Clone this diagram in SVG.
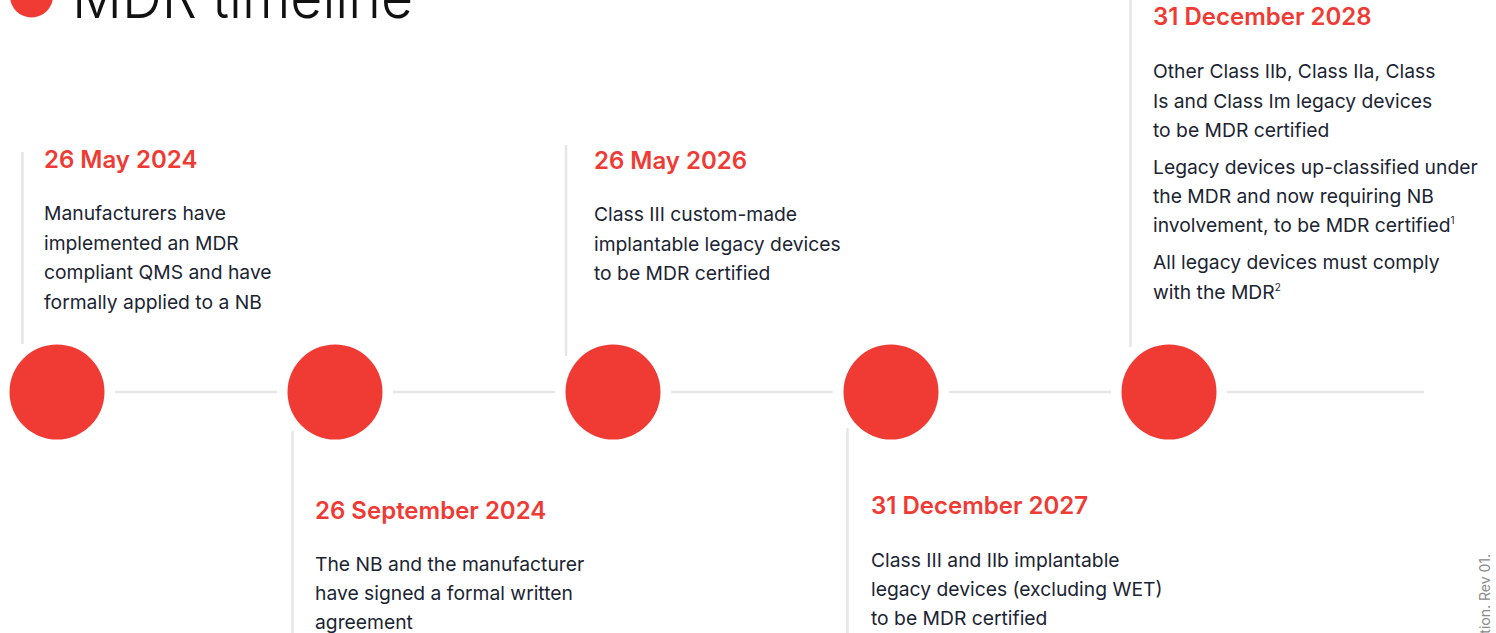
<svg xmlns="http://www.w3.org/2000/svg" width="1496" height="633" viewBox="0 0 1496 633">
<style>
.bg{fill:#ffffff}
.ln{stroke:#e6e6e6;stroke-width:2.5;fill:none}
.dot{fill:#f03a34}
.hd{font-family:Inter,"Liberation Sans",sans-serif;font-weight:600;font-size:24px;fill:#f03a34}
.bd{font-family:Inter,"Liberation Sans",sans-serif;font-weight:400;font-size:19.3px;fill:#1b2432}
.sup{font-size:10px}
.title{font-family:Inter,"Liberation Sans",sans-serif;font-weight:300;font-size:60px;fill:#111111}
.foot{font-family:Inter,"Liberation Sans",sans-serif;font-size:14px;fill:#8a8a8a}
</style>
<rect class="bg" x="0" y="0" width="1496" height="633"/>
<g id="title">
<circle class="dot" cx="31.5" cy="-4" r="21.5"/>
<text class="title" x="72" y="18" textLength="341" lengthAdjust="spacingAndGlyphs">MDR timeline</text>
</g>
<g id="connectors">
<line class="ln" x1="115" y1="392" x2="277" y2="392"/>
<line class="ln" x1="393" y1="392" x2="555" y2="392"/>
<line class="ln" x1="671" y1="392" x2="833" y2="392"/>
<line class="ln" x1="949" y1="392" x2="1111" y2="392"/>
<line class="ln" x1="1227" y1="392" x2="1424" y2="392"/>
<line class="ln" x1="22.5" y1="152" x2="22.5" y2="344"/>
<line class="ln" x1="292.5" y1="431" x2="292.5" y2="633"/>
<line class="ln" x1="566" y1="145" x2="566" y2="356"/>
<line class="ln" x1="847.5" y1="428" x2="847.5" y2="633"/>
<line class="ln" x1="1130.5" y1="0" x2="1130.5" y2="347"/>
</g>
<g id="node1">
<circle class="dot" cx="57" cy="392" r="47.5"/>
<text class="hd" x="44" y="168">26 May 2024</text>
<text class="bd" x="44" y="220">Manufacturers have</text>
<text class="bd" x="44" y="249.5">implemented an MDR</text>
<text class="bd" x="44" y="279">compliant QMS and have</text>
<text class="bd" x="44" y="308.5">formally applied to a NB</text>
</g>
<g id="node2">
<circle class="dot" cx="335" cy="392" r="47.5"/>
<text class="hd" x="315" y="519">26 September 2024</text>
<text class="bd" x="315" y="571">The NB and the manufacturer</text>
<text class="bd" x="315" y="600">have signed a formal written</text>
<text class="bd" x="315" y="629">agreement</text>
</g>
<g id="node3">
<circle class="dot" cx="613" cy="392" r="47.5"/>
<text class="hd" x="594" y="169">26 May 2026</text>
<text class="bd" x="594" y="221">Class III custom-made</text>
<text class="bd" x="594" y="250.5">implantable legacy devices</text>
<text class="bd" x="594" y="280">to be MDR certified</text>
</g>
<g id="node4">
<circle class="dot" cx="891" cy="392" r="47.5"/>
<text class="hd" x="871" y="514">31 December 2027</text>
<text class="bd" x="871" y="567">Class III and IIb implantable</text>
<text class="bd" x="871" y="596">legacy devices (excluding WET)</text>
<text class="bd" x="871" y="625">to be MDR certified</text>
</g>
<g id="node5">
<circle class="dot" cx="1169" cy="392" r="47.5"/>
<text class="hd" x="1153" y="25">31 December 2028</text>
<text class="bd" x="1153" y="78">Other Class IIb, Class IIa, Class</text>
<text class="bd" x="1153" y="107.5">Is and Class Im legacy devices</text>
<text class="bd" x="1153" y="137">to be MDR certified</text>
<text class="bd" x="1153" y="174">Legacy devices up-classified under</text>
<text class="bd" x="1153" y="203">the MDR and now requiring NB</text>
<text class="bd" x="1153" y="232">involvement, to be MDR certified<tspan class="sup" dy="-8">1</tspan></text>
<text class="bd" x="1153" y="269">All legacy devices must comply</text>
<text class="bd" x="1153" y="299">with the MDR<tspan class="sup" dy="-8">2</tspan></text>
</g>
<g id="footer">
<text class="foot" transform="translate(1490,554) rotate(-90)" text-anchor="end">tion. Rev 01.</text>
</g>
</svg>
